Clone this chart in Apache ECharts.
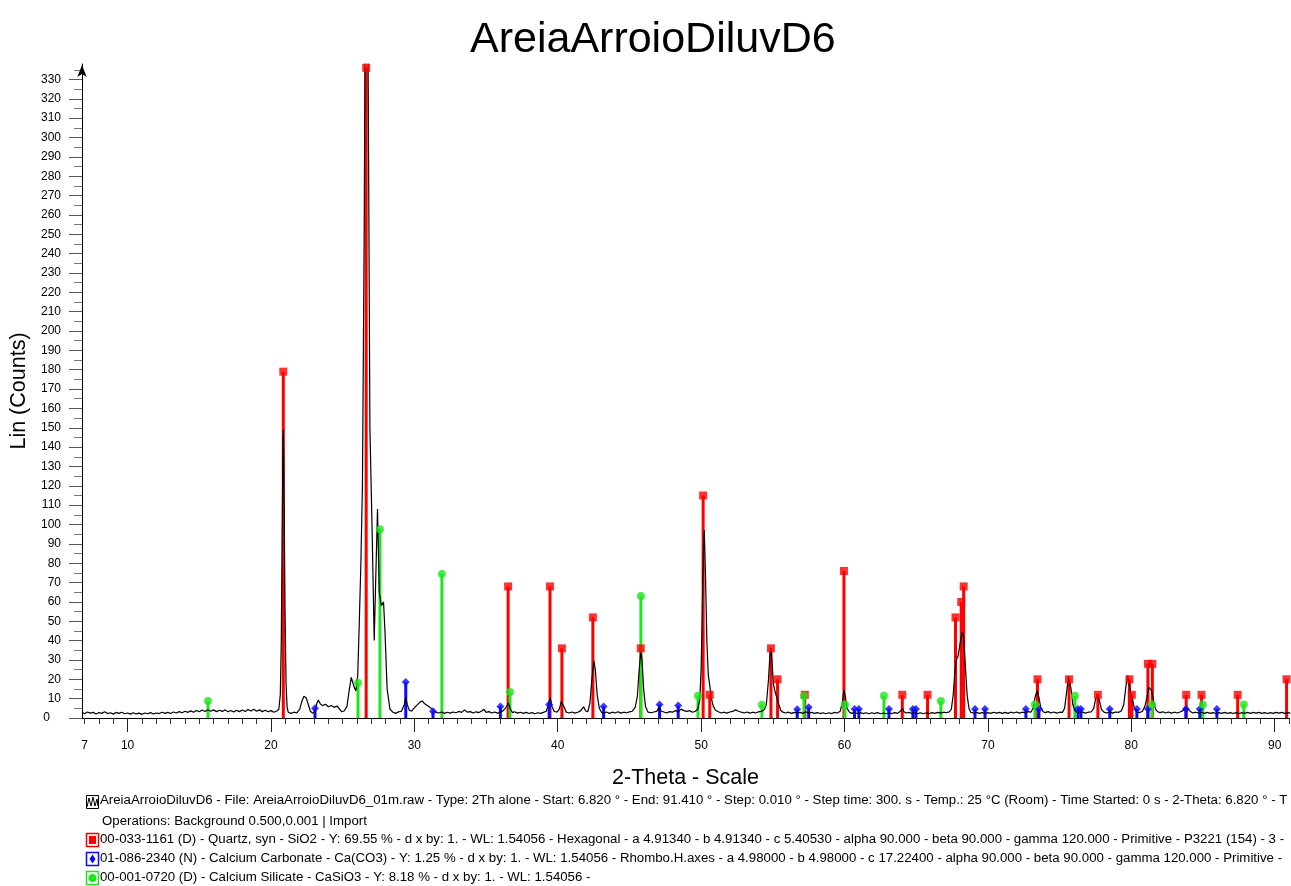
<!DOCTYPE html>
<html>
<head>
<meta charset="utf-8">
<title>AreiaArroioDiluvD6</title>
<script src="https://cdn.jsdelivr.net/npm/echarts@6/dist/echarts.min.js"></script>
<style>
  html, body { margin: 0; padding: 0; background: #fff; }
  #chart { width: 1291px; height: 886px; }
</style>
</head>
<body>
<div id="chart"></div>
<script>
// measured scan, [2-theta, counts]
const scan = [
  [6.82,3],[7.0,2.2],[7.2,3.1],[7.4,2.5],[7.6,2.9],[7.8,2.1],[8.0,2.8],[8.2,2.4],[8.4,3.2],[8.6,2.3],
  [8.8,2.7],[9.0,2.0],[9.2,2.9],[9.4,2.4],[9.6,3.0],[9.8,2.2],[10.0,2.6],[10.2,2.0],[10.4,2.7],[10.6,2.1],
  [10.8,2.5],[11.0,1.9],[11.2,2.6],[11.4,2.2],[11.6,2.8],[11.8,2.1],[12.0,2.6],[12.2,2.3],[12.4,3.0],[12.6,2.4],
  [12.8,2.9],[13.0,2.3],[13.2,3.1],[13.4,2.6],[13.6,3.3],[13.8,2.7],[14.0,3.5],[14.2,2.9],[14.4,3.7],[14.6,3.0],
  [14.8,3.9],[15.0,3.2],[15.2,4.1],[15.4,3.4],[15.6,4.3],[15.8,3.5],[16.0,4.2],[16.2,3.3],[16.4,4.0],[16.6,3.4],
  [16.8,4.2],[17.0,3.2],[17.2,3.9],[17.4,3.1],[17.6,4.0],[17.8,3.3],[18.0,4.1],[18.2,3.4],[18.4,4.4],[18.6,3.6],
  [18.8,4.5],[19.0,3.5],[19.2,4.2],[19.4,3.3],[19.6,4.0],[19.8,3.2],[20.0,3.8],[20.2,3.0],[20.4,3.6],[20.55,4.5],
  [20.65,12],[20.72,40],[20.78,95],[20.84,145],[20.87,149],[20.92,110],[20.98,55],[21.05,18],[21.12,6],[21.2,3],
  [21.4,2.4],[21.6,3.0],[21.8,2.6],[22.0,4.5],[22.15,8.5],[22.3,11.2],[22.45,10.5],[22.6,7],[22.75,3.5],[22.9,2.5],
  [23.05,3.2],[23.2,7.5],[23.3,9.3],[23.45,7.2],[23.6,6.4],[23.8,7.1],[24.0,5.8],[24.2,6.5],[24.4,5.5],[24.6,6.2],
  [24.8,4.4],[24.95,3.2],[25.1,3.6],[25.3,6],[25.45,14],[25.6,21],[25.7,20],[25.8,16],[25.92,14],[26.05,22],
  [26.15,47],[26.27,80],[26.38,121],[26.5,250],[26.6,420],[26.7,440],[26.8,300],[26.9,150],[27.05,98],[27.2,40],
  [27.3,70],[27.43,108],[27.55,65],[27.7,58],[27.85,60],[27.95,45],[28.1,15],[28.3,4.5],[28.5,3],[28.7,2.4],
  [28.9,3.2],[29.1,3.5],[29.3,7],[29.4,10.5],[29.5,7],[29.65,4],[29.8,3.5],[30.0,5.2],[30.2,6.8],[30.4,8.2],
  [30.55,8.8],[30.7,7.5],[30.9,6.5],[31.1,5.4],[31.3,4.2],[31.5,3],[31.7,2.6],[31.9,3.1],[32.1,2.4],[32.3,3],
  [32.5,2.5],[32.7,3.1],[32.9,2.7],[33.1,3.4],[33.3,2.9],[33.5,4.2],[33.7,3.0],[33.9,3.3],[34.1,2.6],[34.3,3.2],
  [34.5,2.8],[34.7,3.6],[34.85,4.5],[35.0,2.9],[35.2,3.3],[35.4,2.6],[35.6,3.1],[35.8,2.5],[36.0,3.0],[36.2,3.8],
  [36.4,5.5],[36.55,7.8],[36.7,4.5],[36.85,2.8],[37.0,3.2],[37.2,2.5],[37.4,3.0],[37.6,2.4],[37.8,2.9],[38.0,2.3],
  [38.2,2.8],[38.4,2.2],[38.6,2.7],[38.8,2.4],[39.0,2.9],[39.2,3.5],[39.35,7],[39.47,10.5],[39.6,6],[39.75,3.5],
  [39.95,3],[40.1,4.5],[40.25,8.5],[40.33,9],[40.45,5.5],[40.6,3],[40.8,2.6],[41.0,3.1],[41.2,2.5],[41.4,3],
  [41.6,3.8],[41.8,5.8],[41.95,3.6],[42.1,3.3],[42.25,8],[42.38,20],[42.52,29.5],[42.62,25],[42.75,12],[42.9,5],
  [43.05,3],[43.2,2.5],[43.4,3.1],[43.6,2.4],[43.8,3.0],[44.0,2.6],[44.2,3.2],[44.4,2.5],[44.6,3.0],[44.8,2.7],
  [45.0,3.2],[45.2,3.5],[45.4,5.5],[45.55,11],[45.68,25],[45.79,34],[45.88,30],[46.0,14],[46.12,6],[46.3,3],
  [46.5,2.7],[46.7,3.1],[46.9,3.4],[47.05,5.5],[47.2,3.6],[47.4,3.1],[47.6,2.6],[47.8,3.3],[48.0,3.0],[48.2,3.8],
  [48.4,3.2],[48.6,4.6],[48.8,3.8],[49.0,3.4],[49.2,3.8],[49.4,3.0],[49.6,3.5],[49.75,4.5],[49.9,9],[50.0,25],
  [50.08,55],[50.17,90],[50.22,97],[50.3,75],[50.4,40],[50.5,22],[50.6,17],[50.72,10],[50.85,6],[51.0,4],
  [51.2,3.2],[51.4,2.6],[51.6,3.0],[51.8,2.5],[52.0,3.1],[52.2,3.4],[52.4,4.2],[52.6,3.5],[52.8,3.0],[53.0,2.6],
  [53.2,3.1],[53.4,2.5],[53.6,3.0],[53.8,2.6],[54.0,3.2],[54.2,3.4],[54.4,4.3],[54.55,7],[54.7,20],[54.8,33],
  [54.87,36],[54.95,28],[55.05,17],[55.18,13],[55.3,12.5],[55.42,7],[55.55,4],[55.7,3],[55.9,2.6],[56.1,3.0],
  [56.3,2.4],[56.5,2.9],[56.7,2.5],[56.9,2.9],[57.1,2.4],[57.3,3.2],[57.5,2.5],[57.7,2.9],[57.9,2.4],[58.1,2.8],
  [58.3,2.3],[58.5,2.7],[58.7,2.2],[58.9,2.7],[59.1,2.3],[59.3,2.9],[59.5,2.6],[59.7,3.5],[59.85,8],[59.96,14.5],
  [60.06,11],[60.18,5],[60.35,3],[60.5,2.4],[60.7,2.9],[60.9,2.3],[61.1,2.8],[61.3,2.3],[61.5,2.7],[61.7,2.2],
  [61.9,2.7],[62.1,2.3],[62.3,2.8],[62.5,2.2],[62.7,2.6],[62.9,2.2],[63.1,2.7],[63.3,2.3],[63.5,2.8],[63.7,2.4],
  [63.9,3.5],[64.03,5],[64.15,3.2],[64.3,2.6],[64.5,2.9],[64.7,2.3],[64.9,2.8],[65.1,2.3],[65.3,2.7],[65.5,2.2],
  [65.7,2.7],[65.9,2.3],[66.1,2.8],[66.3,2.4],[66.5,2.9],[66.7,2.5],[66.9,3.0],[67.1,2.7],[67.3,3.2],[67.45,4.5],
  [67.58,12],[67.7,24],[67.8,30],[67.92,32],[68.05,38],[68.2,44.5],[68.3,42],[68.42,28],[68.55,12],[68.68,5],
  [68.8,3],[69.0,2.5],[69.2,2.9],[69.4,2.4],[69.6,2.8],[69.8,2.3],[70.0,2.8],[70.2,2.4],[70.4,3.0],[70.6,2.5],
  [70.8,2.9],[71.0,2.4],[71.2,2.9],[71.4,2.4],[71.6,3.0],[71.8,2.6],[72.0,3.1],[72.2,2.5],[72.4,3.0],[72.6,2.7],
  [72.8,3.3],[73.0,3.0],[73.15,5],[73.3,11],[73.42,14],[73.55,11],[73.68,5.5],[73.85,3.2],[74.0,2.8],[74.2,3.3],
  [74.4,2.6],[74.6,3.1],[74.8,2.5],[75.0,3.0],[75.2,2.9],[75.35,5],[75.5,14],[75.62,21.5],[75.7,22],[75.8,15],
  [75.92,7],[76.05,4],[76.2,3],[76.4,2.6],[76.6,3.1],[76.8,2.5],[77.0,3.0],[77.2,3.1],[77.38,5],[77.52,10],
  [77.65,12.5],[77.78,9],[77.92,4.5],[78.1,3],[78.3,2.6],[78.5,3.2],[78.7,2.5],[78.9,3.1],[79.1,2.9],[79.3,3.6],
  [79.48,7],[79.62,16],[79.75,22],[79.85,21],[79.98,12],[80.1,9],[80.22,5],[80.4,3],[80.6,2.8],[80.78,3.5],
  [80.95,6],[81.1,11],[81.22,16],[81.3,17],[81.42,14],[81.55,9],[81.7,4.5],[81.85,3.2],[82.0,2.8],[82.2,3.2],
  [82.4,2.6],[82.6,3.1],[82.8,2.5],[83.0,3.0],[83.2,2.6],[83.4,3.1],[83.6,3.8],[83.75,5.5],[83.85,6.4],[83.98,4.5],
  [84.15,3.2],[84.3,2.6],[84.5,3.0],[84.7,2.5],[84.9,3.0],[85.1,2.4],[85.3,2.9],[85.5,2.4],[85.7,2.8],[85.9,2.3],
  [86.1,2.8],[86.3,2.4],[86.5,2.9],[86.7,2.4],[86.9,2.8],[87.1,2.3],[87.3,2.8],[87.5,2.3],[87.7,2.8],[87.9,2.4],
  [88.1,2.9],[88.3,2.4],[88.5,2.9],[88.7,2.5],[88.9,2.9],[89.1,2.4],[89.3,2.8],[89.5,2.3],[89.7,2.8],[89.9,2.4],
  [90.1,2.9],[90.3,2.5],[90.5,2.9],[90.7,2.4],[90.9,2.8],[91.1,2.5]
];

// reference patterns (stick positions and heights)
const quartzTheta = [20.86, 26.64, 36.54, 39.46, 40.29, 42.45, 45.79, 50.14, 50.6, 54.87, 55.33, 57.23, 59.96, 64.03, 65.79,
  67.74, 68.14, 68.31, 73.46, 75.66, 77.67, 79.87, 80.04, 81.16, 81.47, 83.83, 84.9, 87.42, 90.83];
const quartzCounts = [179, 336, 68, 68, 36, 52, 36, 115, 12, 36, 20, 12, 76, 12, 12,
  52, 60, 68, 20, 20, 12, 20, 12, 28, 28, 12, 12, 12, 20];

const calciteTheta = [23.07, 29.4, 31.3, 36.0, 39.4, 43.2, 47.1, 48.4, 56.7, 57.5, 60.7, 61.0, 63.1, 64.77, 64.98,
  69.1, 69.8, 72.65, 73.56, 76.28, 76.49, 78.5, 80.39, 81.16, 83.81, 84.78, 85.97];
const calciteCounts = [5, 18.6, 3.5, 6, 7, 6, 7, 6.5, 4.5, 5.5, 4.6, 4.6, 4.6, 4.6, 4.6,
  4.6, 4.6, 4.6, 4.6, 4.6, 4.6, 4.6, 4.6, 4.6, 4.6, 4.6, 4.6];

const silicateTheta = [15.61, 26.07, 27.6, 31.92, 36.67, 45.8, 49.78, 54.24, 57.17, 60.03, 62.75, 66.72, 73.28, 76.07, 81.44,
  84.99, 87.85];
const silicateCounts = [8.8, 18.2, 97.6, 74.4, 13.4, 63, 11.5, 6.9, 11.4, 7, 11.5, 8.8, 7, 11.5, 7,
  7, 7];

// axis ticks / labels
const xLabels = [7, 10, 20, 30, 40, 50, 60, 70, 80, 90];
const xMajorTicks = [10, 20, 30, 40, 50, 60, 70, 80, 90];
const xMinorTicks = [7, 8, 9, 11, 12, 13, 14, 15, 16, 17, 18, 19, 21, 22, 23, 24, 25, 26, 27, 28, 29,
  31, 32, 33, 34, 35, 36, 37, 38, 39, 41, 42, 43, 44, 45, 46, 47, 48, 49, 51, 52, 53, 54, 55, 56, 57, 58, 59,
  61, 62, 63, 64, 65, 66, 67, 68, 69, 71, 72, 73, 74, 75, 76, 77, 78, 79, 81, 82, 83, 84, 85, 86, 87, 88, 89, 91];
const yLabels = [0, 10, 20, 30, 40, 50, 60, 70, 80, 90, 100, 110, 120, 130, 140, 150, 160, 170, 180, 190,
  200, 210, 220, 230, 240, 250, 260, 270, 280, 290, 300, 310, 320, 330];
const yMinorTicks = [5, 15, 25, 35, 45, 55, 65, 75, 85, 95, 105, 115, 125, 135, 145, 155, 165, 175, 185, 195,
  205, 215, 225, 235, 245, 255, 265, 275, 285, 295, 305, 315, 325, 335];

const legendLines = [
  'AreiaArroioDiluvD6 - File: AreiaArroioDiluvD6_01m.raw - Type: 2Th alone - Start: 6.820 ° - End: 91.410 ° - Step: 0.010 ° - Step time: 300. s - Temp.: 25 °C (Room) - Time Started: 0 s - 2-Theta: 6.820 ° - T',
  'Operations: Background 0.500,0.001 | Import',
  '00-033-1161 (D) - Quartz, syn - SiO2 - Y: 69.55 % - d x by: 1. - WL: 1.54056 - Hexagonal - a 4.91340 - b 4.91340 - c 5.40530 - alpha 90.000 - beta 90.000 - gamma 120.000 - Primitive - P3221 (154) - 3 -',
  '01-086-2340 (N) - Calcium Carbonate - Ca(CO3) - Y: 1.25 % - d x by: 1. - WL: 1.54056 - Rhombo.H.axes - a 4.98000 - b 4.98000 - c 17.22400 - alpha 90.000 - beta 90.000 - gamma 120.000 - Primitive -',
  '00-001-0720 (D) - Calcium Silicate - CaSiO3 - Y: 8.18 % - d x by: 1. - WL: 1.54056 -'
];

const FONT = '"Liberation Sans", Arial, sans-serif';
const RED = '#ff0000';
const BLUE = '#0a0aff';
const GREEN = '#1ee61e';

const zip = (xs, ys) => xs.map((x, i) => [x, ys[i]]);

function stickSeries(name, theta, counts, color) {
  return {
    name: name,
    type: 'custom',
    z: 2,
    data: zip(theta, counts),
    renderItem: function (params, api) {
      const base = api.coord([api.value(0), 0]);
      const top = api.coord([api.value(0), api.value(1)]);
      return {
        type: 'rect',
        shape: { x: base[0] - 1.5, y: top[1], width: 3, height: base[1] - top[1] },
        style: { fill: color }
      };
    }
  };
}

function markerSeries(name, theta, counts, color, symbol, size) {
  return {
    name: name,
    type: 'scatter',
    z: 4,
    symbol: symbol,
    symbolSize: size,
    itemStyle: { color: color },
    data: zip(theta, counts)
  };
}

// legend block under the chart
const legendGraphics = [];
const legendY = [802, 823, 841, 860, 879];
legendLines.forEach((line, i) => {
  legendGraphics.push({
    type: 'text',
    left: i === 1 ? 102 : 100,
    top: legendY[i] - 8,
    style: { text: line, font: '13.25px ' + FONT, fill: '#000' }
  });
});
// scan icon
legendGraphics.push({
  type: 'rect', shape: { x: 86.5, y: 795.5, width: 12, height: 13 },
  style: { fill: 'none', stroke: '#000', lineWidth: 1 }
});
legendGraphics.push({
  type: 'polyline',
  shape: { points: [[87, 807], [89, 798], [91, 806], [93, 797], [95, 806], [97, 799], [98, 806]] },
  style: { fill: 'none', stroke: '#000', lineWidth: 1 }
});
// pattern icons
[[RED, 'rect'], [BLUE, 'diamond'], [GREEN, 'circle']].forEach((p, k) => {
  const cy = legendY[k + 2] - 1;
  legendGraphics.push({
    type: 'rect', shape: { x: 86.5, y: cy - 6.5, width: 12, height: 13 },
    style: { fill: 'none', stroke: p[0], lineWidth: 1.5 }
  });
  if (p[1] === 'rect') {
    legendGraphics.push({ type: 'rect', shape: { x: 89, y: cy - 4, width: 7, height: 8 }, style: { fill: p[0] } });
  } else if (p[1] === 'diamond') {
    legendGraphics.push({
      type: 'polygon', shape: { points: [[92.5, cy - 4.5], [95.5, cy], [92.5, cy + 4.5], [89.5, cy]] },
      style: { fill: p[0] }
    });
  } else {
    legendGraphics.push({ type: 'circle', shape: { cx: 92.5, cy: cy, r: 4 }, style: { fill: p[0] } });
  }
});

const chart = echarts.init(document.getElementById('chart'));

const option = {
  animation: false,
  backgroundColor: '#fff',
  textStyle: { fontFamily: FONT },
  title: {
    text: 'AreiaArroioDiluvD6',
    left: 465,
    top: 14,
    textStyle: { fontSize: 43, fontWeight: 'normal', color: '#000', fontFamily: FONT }
  },
  grid: { left: 82, right: 2, top: 64, bottom: 168 },
  xAxis: [
    {
      type: 'value',
      min: 6.82,
      max: 91.0,
      name: '2-Theta - Scale',
      nameLocation: 'middle',
      nameGap: 49,
      nameTextStyle: { fontSize: 21.5, color: '#000', fontFamily: FONT },
      axisLine: { show: true, onZero: false, lineStyle: { color: '#000', width: 1 } },
      axisTick: { show: true, length: 14, customValues: xMajorTicks, lineStyle: { color: '#222' } },
      axisLabel: { customValues: xLabels, fontSize: 12, color: '#000', margin: 22, fontFamily: FONT },
      splitLine: { show: false }
    },
    {
      type: 'value',
      min: 6.82,
      max: 91.0,
      position: 'bottom',
      axisLine: { show: false },
      axisTick: { show: true, length: 6, customValues: xMinorTicks, lineStyle: { color: '#333' } },
      axisLabel: { show: false },
      splitLine: { show: false }
    }
  ],
  yAxis: [
    {
      type: 'value',
      min: 0,
      max: 338,
      name: 'Lin (Counts)',
      nameLocation: 'middle',
      nameRotate: 90,
      nameGap: 50,
      nameTextStyle: { fontSize: 21.5, color: '#000', fontFamily: FONT },
      axisLine: {
        show: true, onZero: false,
        symbol: ['none', 'arrow'], symbolSize: [7, 12], symbolOffset: [0, -1],
        lineStyle: { color: '#000', width: 1 }
      },
      axisTick: { show: true, length: 13, customValues: yLabels, lineStyle: { color: '#555' } },
      axisLabel: {
        customValues: yLabels,
        fontSize: 12,
        color: '#000',
        margin: 21,
        fontFamily: FONT,
        formatter: v => (v === 0 ? '{z|0}' : String(v)),
        rich: { z: { fontSize: 12, padding: [0, 11, 0, 0], fontFamily: FONT } }
      },
      splitLine: { show: false }
    },
    {
      type: 'value',
      min: 0,
      max: 338,
      position: 'left',
      axisLine: { show: false },
      axisTick: { show: true, length: 8, customValues: yMinorTicks, lineStyle: { color: '#777' } },
      axisLabel: { show: false },
      splitLine: { show: false }
    }
  ],
  graphic: legendGraphics,
  series: [
    stickSeries('Quartz', quartzTheta, quartzCounts, RED),
    stickSeries('Calcium Carbonate', calciteTheta, calciteCounts, BLUE),
    stickSeries('Calcium Silicate', silicateTheta, silicateCounts, GREEN),
    {
      name: 'AreiaArroioDiluvD6',
      type: 'line',
      z: 3,
      data: scan,
      showSymbol: false,
      clip: true,
      lineStyle: { color: '#000', width: 1.2 }
    },
    markerSeries('Quartz marker', quartzTheta, quartzCounts, RED, 'rect', 8),
    markerSeries('Calcium Carbonate marker', calciteTheta, calciteCounts, BLUE, 'diamond', 8),
    markerSeries('Calcium Silicate marker', silicateTheta, silicateCounts, GREEN, 'circle', 8)
  ]
};

chart.setOption(option);
</script>
</body>
</html>
